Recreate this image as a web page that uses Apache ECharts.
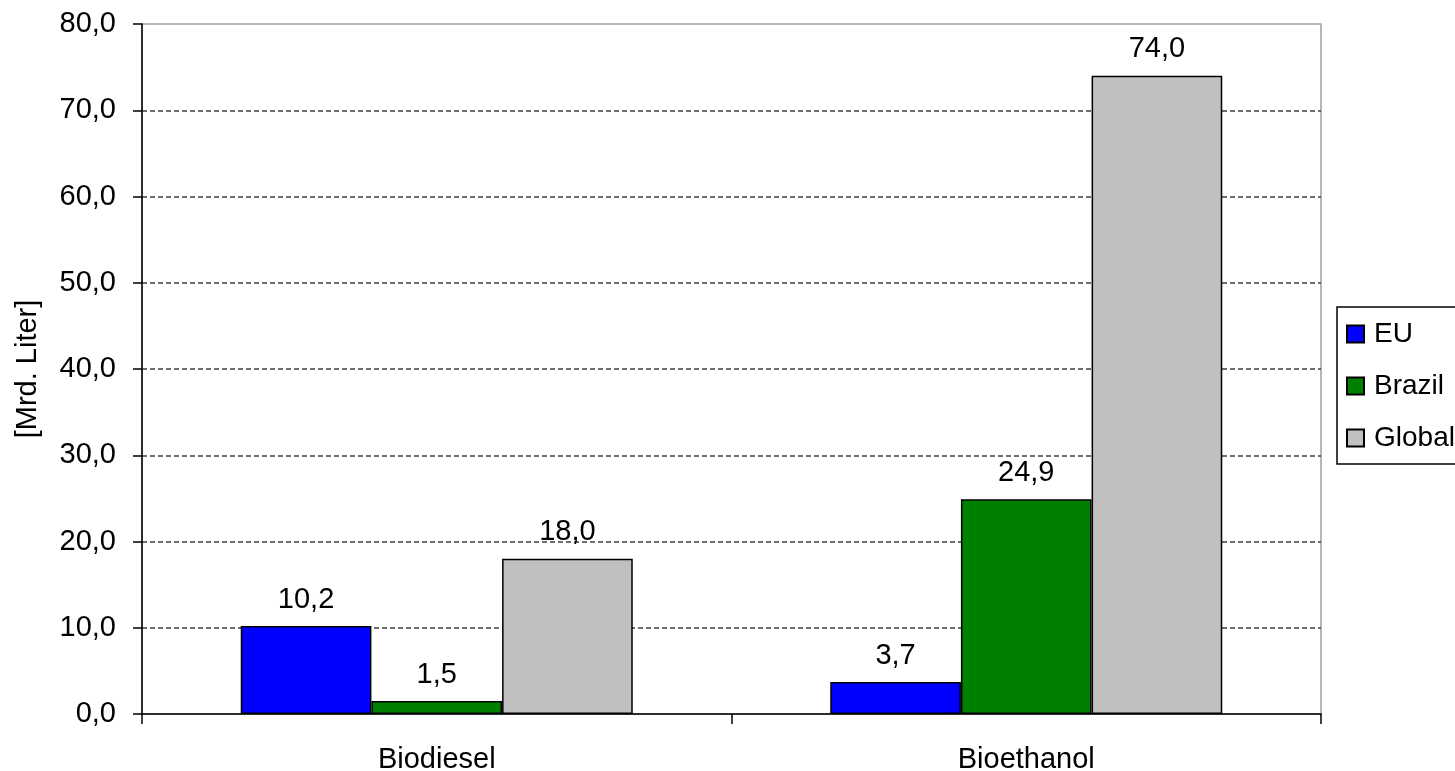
<!DOCTYPE html>
<html>
<head>
<meta charset="utf-8">
<script src="https://cdn.jsdelivr.net/npm/echarts@6/dist/echarts.min.js"></script>
<style>
html,body{margin:0;padding:0;background:#fff;}
#chart{width:1455px;height:771px;}
</style>
</head>
<body>
<div id="chart"></div>
<script>
const categories = ['Biodiesel', 'Bioethanol'];
const seriesNames = ['EU', 'Brazil', 'Global'];
const euValues = [10.2, 3.7];
const brazilValues = [1.5, 24.9];
const globalValues = [18.0, 74.0];
const seriesColors = ['#0000FF', '#008000', '#C0C0C0'];
const yAxisName = '[Mrd. Liter]';

const FONT = '"Liberation Sans", Arial, sans-serif';
const FS = 29;
const fmt = v => v.toFixed(1).replace('.', ',');

const chart = echarts.init(document.getElementById('chart'));
const valueSets = [euValues, brazilValues, globalValues];

chart.setOption({
  animation: false,
  textStyle: { fontFamily: FONT },
  grid: {
    left: 142, right: 134, top: 24, bottom: 57,
    containLabel: false, outerBoundsMode: 'none',
    show: true, borderColor: '#a0a0a0', borderWidth: 1.5, backgroundColor: 'transparent'
  },
  legend: {
    orient: 'vertical',
    left: 1337, top: 307,
    data: seriesNames,
    itemWidth: 17, itemHeight: 17, itemGap: 24,
    padding: [13, 40, 12, 9],
    borderColor: '#000', borderWidth: 1.5,
    textStyle: { fontSize: 28, color: '#000', fontFamily: FONT, padding: [0, 0, 0, 5] },
    icon: 'rect'
  },
  xAxis: {
    type: 'category',
    data: categories,
    axisLine: { lineStyle: { color: '#000', width: 1.5 } },
    axisTick: { show: true, length: 10, inside: false, lineStyle: { color: '#000', width: 1.5 } },
    axisLabel: { fontSize: FS, color: '#000', margin: 31, fontFamily: FONT },
    splitLine: { show: false }
  },
  yAxis: {
    type: 'value',
    min: 0, max: 80, interval: 10,
    name: yAxisName,
    nameLocation: 'middle',
    nameRotate: 90,
    nameGap: 100,
    nameTextStyle: { fontSize: FS, color: '#000', fontFamily: FONT },
    axisLine: { show: true, lineStyle: { color: '#000', width: 1.5 } },
    axisTick: { show: true, length: 9, lineStyle: { color: '#000', width: 1.5 } },
    axisLabel: { fontSize: FS, color: '#000', margin: 26, fontFamily: FONT, formatter: v => fmt(v) },
    splitLine: {
      show: true, showMinLine: false, showMaxLine: false,
      lineStyle: { color: '#404040', type: [5, 3], width: 1.5 }
    }
  },
  series: seriesNames.map((name, i) => ({
    name: name,
    type: 'bar',
    data: valueSets[i],
    barGap: '0%',
    barCategoryGap: '33.5%',
    itemStyle: { color: seriesColors[i], borderColor: '#000', borderWidth: 1.5 },
    label: {
      show: true, position: 'top', distance: 12,
      fontSize: FS, color: '#000', fontFamily: FONT,
      formatter: p => fmt(p.value)
    }
  }))
});
</script>
</body>
</html>
